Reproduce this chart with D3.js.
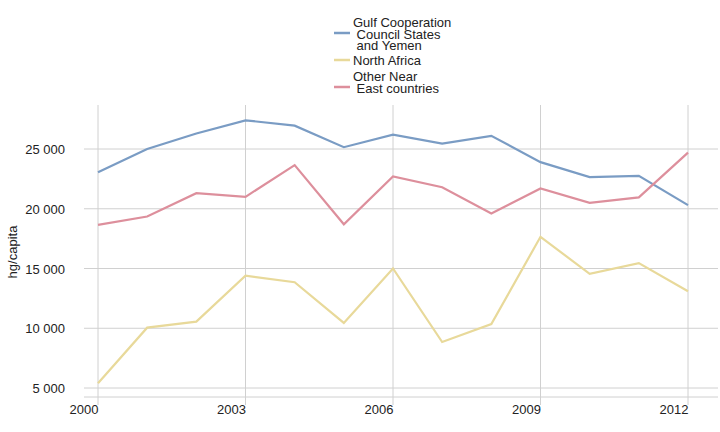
<!DOCTYPE html><html><head><script src="https://cdn.jsdelivr.net/npm/d3@7"></script>
<style>body{margin:0;background:#fff}text{font-family:"Liberation Sans",Arial,sans-serif}</style></head><body><svg width="720" height="432"></svg>
<script>
const years=[2000,2001,2002,2003,2004,2005,2006,2007,2008,2009,2010,2011,2012];
const gcc=[23050,25000,26300,27400,26950,25150,26200,25450,26100,23900,22650,22750,20300];
const nafrica=[5400,10050,10550,14400,13850,10450,15000,8850,10350,17650,14550,15450,13100];
const other=[18650,19350,21300,21000,23650,18700,22700,21800,19600,21700,20500,20950,24700];
const names=[["Gulf Cooperation"," Council States"," and Yemen"],["North Africa"],["Other Near"," East countries"]];
const colors=["#7a9cc4","#e8d99a","#dd8f9c"];
const yTicks=[5000,10000,15000,20000,25000];
const xTicks=[2000,2003,2006,2009,2012];
const svg=d3.select("svg");
const x=d3.scaleLinear().domain([2000,2012]).range([98,688]);
const y=d3.scaleLinear().domain([5000,25000]).range([388,149]);
const fmt=v=>d3.format(",")(v).replace(","," ");
svg.append("g").selectAll("line").data(yTicks).join("line").attr("x1",84).attr("x2",718).attr("y1",d=>y(d)).attr("y2",d=>y(d)).attr("stroke","#d0d0d0");
svg.append("g").selectAll("line").data(xTicks).join("line").attr("x1",d=>x(d)).attr("x2",d=>x(d)).attr("y1",105).attr("y2",405).attr("stroke","#d0d0d0");
svg.append("line").attr("x1",84).attr("x2",718).attr("y1",397).attr("y2",397).attr("stroke","#d0d0d0");
svg.append("g").selectAll("text").data(yTicks).join("text").attr("x",65).attr("y",d=>y(d)+5).attr("text-anchor","end").attr("font-size",13).attr("fill","#222").text(fmt);
svg.append("g").selectAll("text").data(xTicks).join("text").attr("x",d=>x(d)-14).attr("y",414).attr("text-anchor","middle").attr("font-size",13).attr("fill","#222").text(d=>d);
svg.append("text").attr("transform","translate(17,252) rotate(-90)").attr("text-anchor","middle").attr("font-size",13).attr("fill","#222").text("hg/capita");
const line=d3.line().x((d,i)=>x(years[i])).y(d=>y(d));
[gcc,nafrica,other].forEach((s,i)=>svg.append("path").attr("d",line(s)).attr("fill","none").attr("stroke",colors[i]).attr("stroke-width",2.2));
const lineY=[33,60,87];
const textY=[[27,39,50],[65],[81,93]];
names.forEach((n,i)=>{
 svg.append("line").attr("x1",334).attr("x2",350).attr("y1",lineY[i]).attr("y2",lineY[i]).attr("stroke",colors[i]).attr("stroke-width",2.5);
 const t=svg.append("text").attr("x",353).attr("font-size",13).attr("fill","#222");
 n.forEach((s,j)=>t.append("tspan").attr("x",353).attr("y",textY[i][j]).style("white-space","pre").text(s));
});
</script></body></html>
